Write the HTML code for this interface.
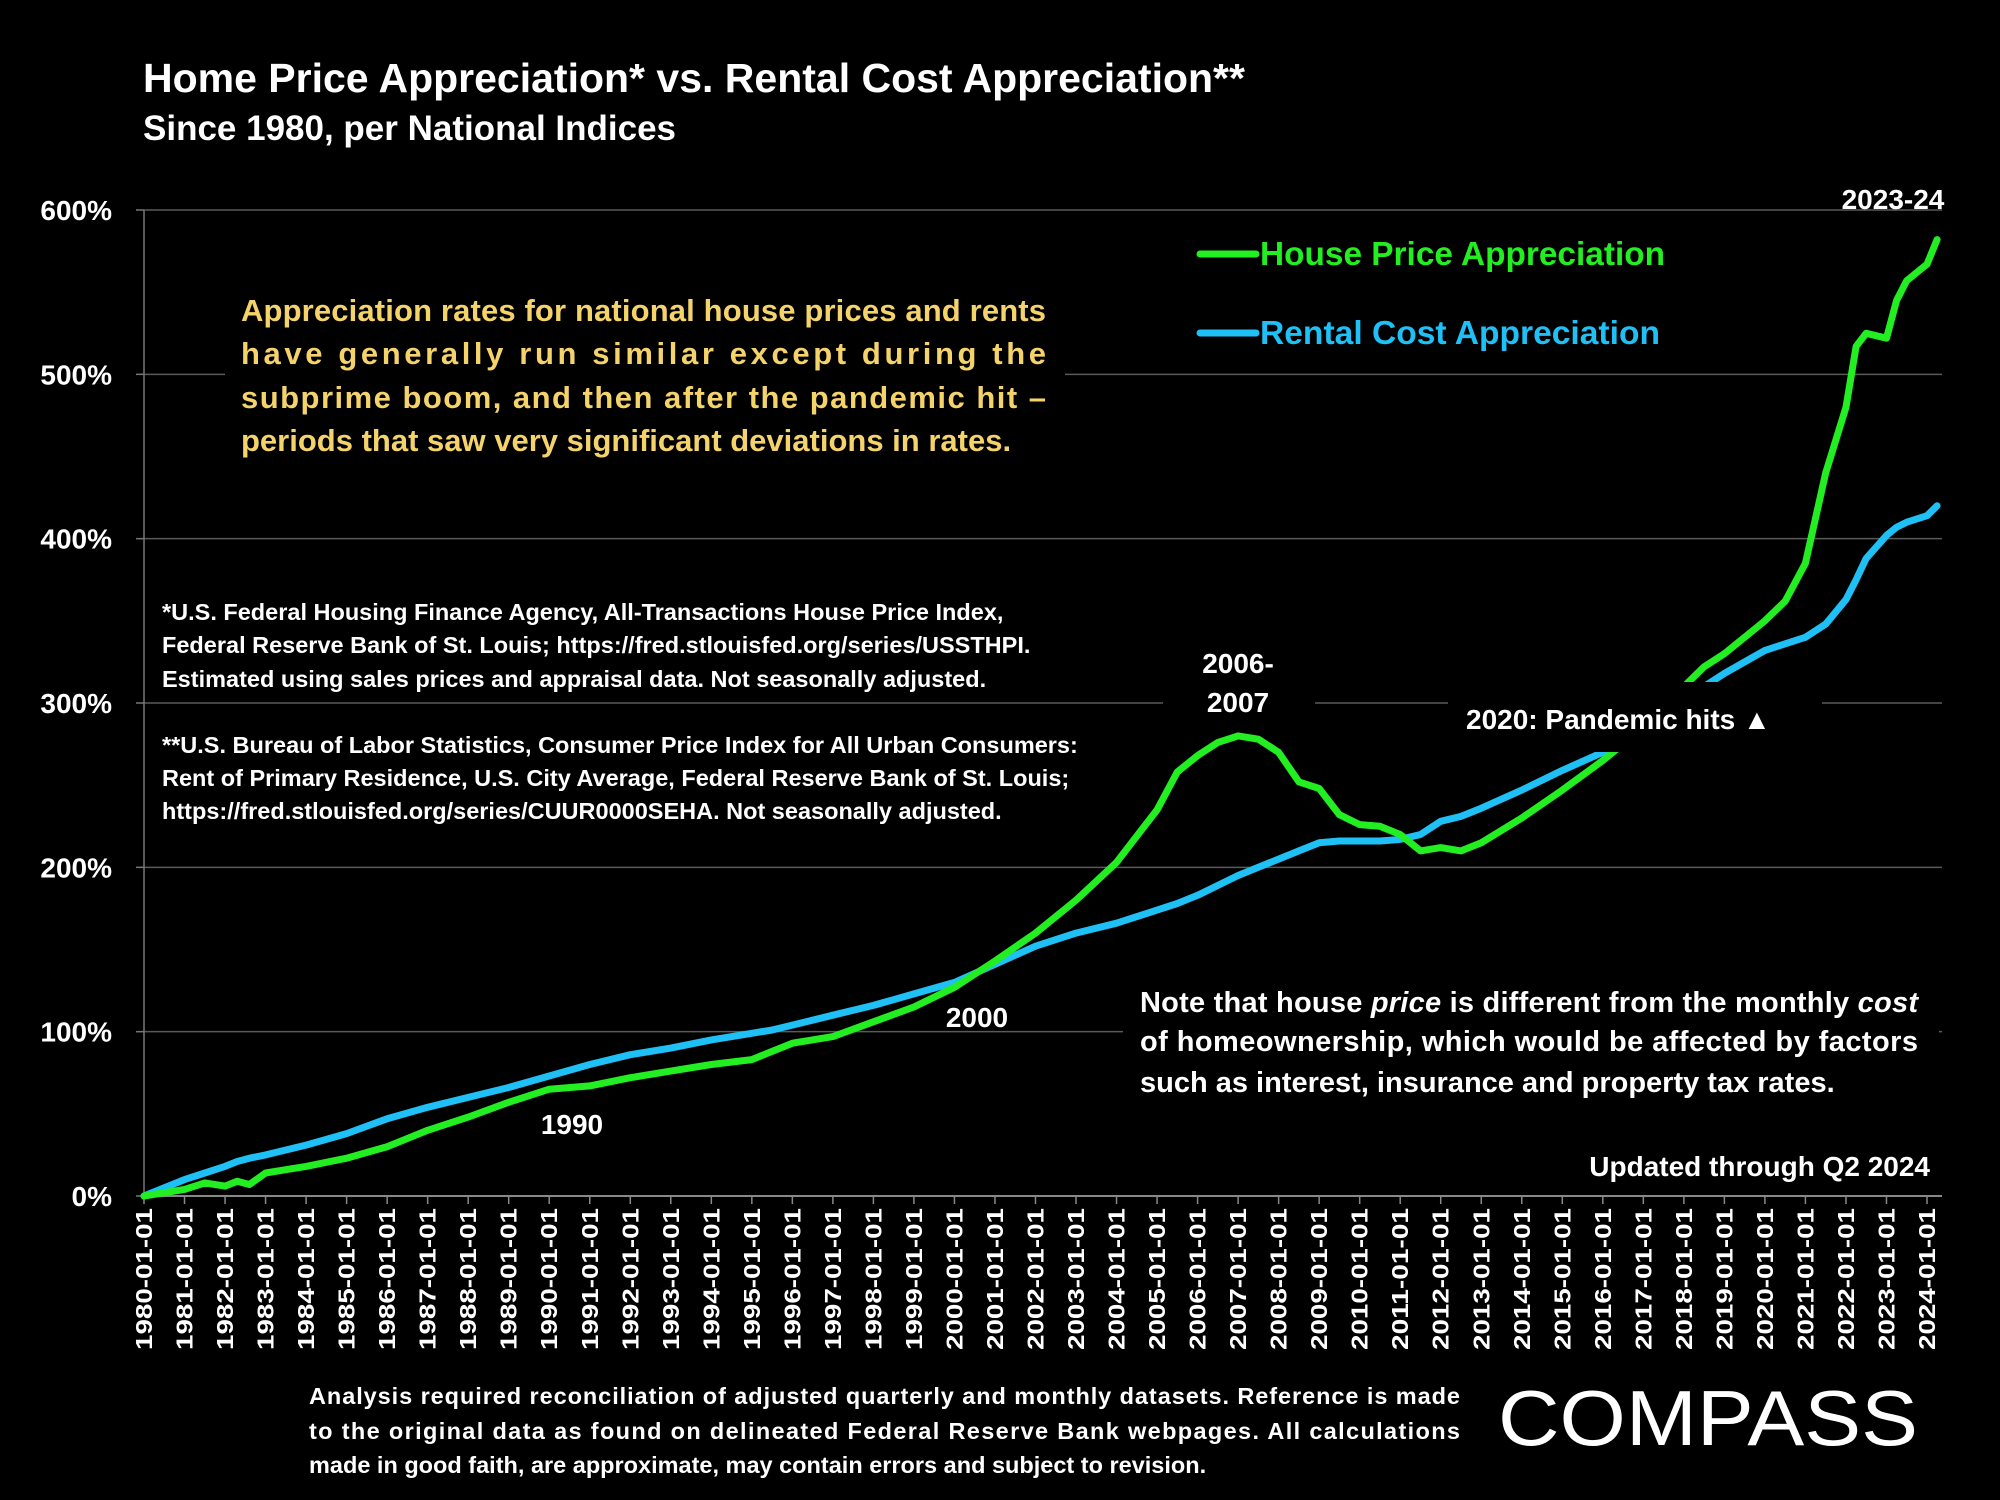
<!DOCTYPE html>
<html><head><meta charset="utf-8"><style>
html,body{margin:0;padding:0;background:#000;}
svg{display:block;}
text{font-family:"Liberation Sans",sans-serif;font-weight:bold;}
.narrow{font-family:"Liberation Sans Narrow","Liberation Sans",sans-serif;}
</style></head><body>
<svg id="chart" width="2000" height="1500" viewBox="0 0 2000 1500" xmlns="http://www.w3.org/2000/svg">
<rect width="2000" height="1500" fill="#000"/>
<text x="143" y="92" font-size="41" fill="#fff">Home Price Appreciation* vs. Rental Cost Appreciation**</text>
<text x="143" y="140" font-size="35" fill="#fff">Since 1980, per National Indices</text>
<g id="grid"></g>
<g id="yticks"></g>
<g id="xaxis"></g>
<g id="series"></g>

<rect x="225" y="280" width="840" height="180" fill="#000"/>
<g font-size="31" fill="#f5d36b">
<text x="241" y="321" textLength="805" lengthAdjust="spacing">Appreciation rates for national house prices and rents</text>
<text x="241" y="364" textLength="805" lengthAdjust="spacing">have generally run similar except during the</text>
<text x="241" y="408" textLength="805" lengthAdjust="spacing">subprime boom, and then after the pandemic hit –</text>
<text x="241" y="451">periods that saw very significant deviations in rates.</text>
</g>
<g font-size="23.5" fill="#fff">
<text x="162" y="620">*U.S. Federal Housing Finance Agency, All-Transactions House Price Index,</text>
<text x="162" y="653">Federal Reserve Bank of St. Louis; https://fred.stlouisfed.org/series/USSTHPI.</text>
<text x="162" y="687">Estimated using sales prices and appraisal data. Not seasonally adjusted.</text>
</g>
<g font-size="23.5" fill="#fff">
<text x="162" y="753">**U.S. Bureau of Labor Statistics, Consumer Price Index for All Urban Consumers:</text>
<text x="162" y="786">Rent of Primary Residence, U.S. City Average, Federal Reserve Bank of St. Louis;</text>
<text x="162" y="819">https://fred.stlouisfed.org/series/CUUR0000SEHA. Not seasonally adjusted.</text>
</g>
<rect x="1163" y="640" width="152" height="80" fill="#000"/>
<text x="1238" y="673" font-size="28" fill="#fff" text-anchor="middle">2006-</text>
<text x="1238" y="712" font-size="28" fill="#fff" text-anchor="middle">2007</text>
<rect x="1448" y="682" width="374" height="70" fill="#000"/>
<text x="1466" y="729" font-size="28" fill="#fff">2020:  Pandemic hits ▲</text>
<text x="977" y="1027" font-size="28" fill="#fff" text-anchor="middle">2000</text>
<text x="572" y="1134" font-size="28" fill="#fff" text-anchor="middle">1990</text>
<rect x="1123" y="975" width="816" height="136" fill="#000"/>
<g font-size="29" fill="#fff">
<text x="1140" y="1012" textLength="778" lengthAdjust="spacing">Note that house <tspan font-style="italic">price</tspan> is different from the monthly <tspan font-style="italic">cost</tspan></text>
<text x="1140" y="1051" textLength="778" lengthAdjust="spacing">of homeownership, which would be affected by factors</text>
<text x="1140" y="1092">such as interest, insurance and property tax rates.</text>
</g>
<rect x="1550" y="1140" width="392" height="54" fill="#000"/>
<text x="1930" y="1176" font-size="28" fill="#fff" text-anchor="end">Updated through Q2 2024</text>
<text x="1893" y="209" font-size="28" fill="#fff" text-anchor="middle">2023-24</text>

<g>
<line x1="1200" y1="254" x2="1256" y2="254" stroke="#22ee22" stroke-width="7" stroke-linecap="round"/>
<text x="1260" y="265" font-size="33" fill="#22ee22" textLength="405" lengthAdjust="spacingAndGlyphs">House Price Appreciation</text>
<line x1="1200" y1="333" x2="1256" y2="333" stroke="#1ec0f5" stroke-width="7" stroke-linecap="round"/>
<text x="1260" y="344" font-size="33" fill="#1ec0f5" textLength="400" lengthAdjust="spacingAndGlyphs">Rental Cost Appreciation</text>
</g>

<g font-size="23.5" fill="#fff">
<text x="309" y="1404" textLength="1151" lengthAdjust="spacing">Analysis required reconciliation of adjusted quarterly and monthly datasets. Reference is made</text>
<text x="309" y="1439" textLength="1151" lengthAdjust="spacing">to the original data as found on delineated Federal Reserve Bank webpages. All calculations</text>
<text x="309" y="1473">made in good faith, are approximate, may contain errors and subject to revision.</text>
</g>
<g>
<text x="1498" y="1445" font-size="78" fill="#fff" textLength="420" lengthAdjust="spacingAndGlyphs" style="font-weight:normal">COMPASS</text>
</g>
</svg>
<script>
const years = [1980,1980.5,1981,1981.5,1982,1982.3,1982.6,1983,1983.5,1984,1985,1986,1987,1988,1989,1990,1991,1992,1993,1994,1995,1995.5,1996,1997,1998,1999,2000,2001,2002,2003,2004,2005,2005.5,2006,2006.5,2007,2007.5,2008,2008.5,2009,2009.5,2010,2010.5,2011,2011.5,2012,2012.5,2013,2014,2015,2016,2017,2018,2018.5,2019,2019.5,2020,2020.5,2021,2021.5,2022,2022.25,2022.5,2023,2023.25,2023.5,2024,2024.25];
const houseValues = [0,2,4,8,6,9,7,14,16,18,23,30,40,48,57,65,67,72,76,80,83,88,93,97,106,115,127,143,160,180,203,235,258,268,276,280,278,270,252,248,232,226,225,220,210,212,210,215,230,247,265,285,310,322,330,340,350,362,385,440,480,517,525,522,545,557,567,582];
const rentValues = [0,5,10,14,18,21,23,25,28,31,38,47,54,60,66,73,80,86,90,95,99,101,104,110,116,123,130,141,152,160,166,174,178,183,189,195,200,205,210,215,216,216,216,217,220,228,231,236,247,259,270,285,303,310,318,325,332,336,340,348,363,375,388,402,407,410,414,420];
const yTicks = [0,100,200,300,400,500,600];
const xTickYears = [];
for (let y=1980;y<=2024;y++) xTickYears.push(y);

const NS='http://www.w3.org/2000/svg';
const X0=144, X1=1927, Y0=1196, Y600=210, XEND=1942;
function xScale(yr){return X0+(yr-1980)*(X1-X0)/44;}
function yScale(v){return Y0-(v/600)*(Y0-Y600);}
function mk(tag,attrs,parent){const e=document.createElementNS(NS,tag);for(const k in attrs)e.setAttribute(k,attrs[k]);parent.appendChild(e);return e;}

const grid=document.getElementById('grid'), yt=document.getElementById('yticks'), xa=document.getElementById('xaxis'), ser=document.getElementById('series');
yTicks.forEach(v=>{
  if(v>0){const l=mk('line',{x1:X0,x2:XEND,y1:yScale(v),y2:yScale(v),stroke:'#5a5a5a','stroke-width':1.5},grid);
  
  }
  const t=mk('text',{x:112,y:yScale(v)+10,'font-size':28,fill:'#fff','text-anchor':'end'},yt);
  t.textContent=v+'%';
  
  
  const tk=mk('line',{x1:X0-8,x2:X0,y1:yScale(v),y2:yScale(v),stroke:'#777','stroke-width':1.5},yt);
  
  
});
const ya=mk('line',{x1:X0,x2:X0,y1:Y600,y2:Y0,stroke:'#777','stroke-width':1.5},yt);


const xl=mk('line',{x1:X0,x2:XEND,y1:Y0,y2:Y0,stroke:'#888','stroke-width':2},xa);


xTickYears.forEach(yr=>{
  const x=xScale(yr);
  const tk=mk('line',{x1:x,x2:x,y1:Y0,y2:Y0+8,stroke:'#888','stroke-width':1.5},xa);
  
  
  const t=mk('text',{x:0,y:0,'font-size':23,fill:'#fff','text-anchor':'end',class:'narrow',transform:`translate(${x+8},${Y0+12}) rotate(-90)`,textLength:142,lengthAdjust:'spacingAndGlyphs'},xa);
  t.textContent=yr+'-01-01';
  
  
});
function line(vals,color,name){
  const d=vals.map((v,i)=>(i?'L':'M')+xScale(years[i]).toFixed(1)+','+yScale(v).toFixed(1)).join(' ');
  const p=mk('path',{d:d,fill:'none',stroke:color,'stroke-width':7,'stroke-linejoin':'round','stroke-linecap':'round'},ser);
  
  
}
line(rentValues,'#1ec0f5','rent-line');
line(houseValues,'#22ee22','house-line');
</script>
</body></html>
